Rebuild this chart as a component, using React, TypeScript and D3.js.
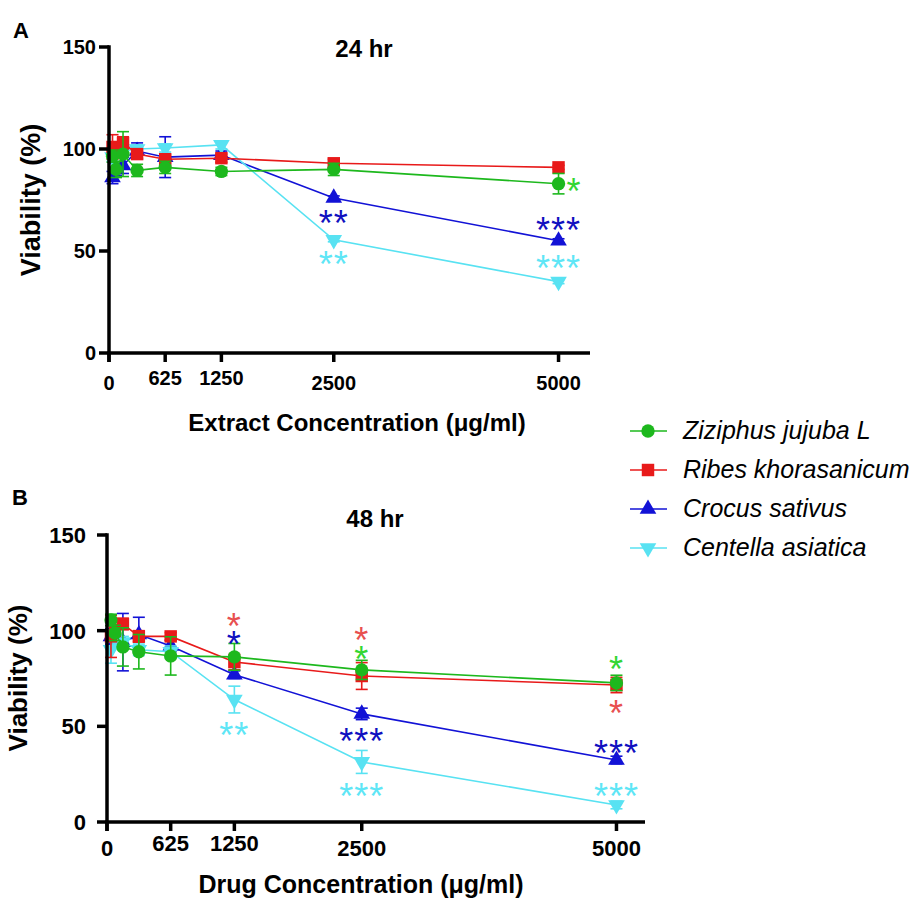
import React from "react";
import * as d3 from "d3";

// doses used in both experiments (µg/ml)
const concentrations = [39, 78, 156, 312.5, 625, 1250, 2500, 5000];
const xTickValues = [0, 625, 1250, 2500, 5000];
const yTickValues = [0, 50, 100, 150];

const species = ["Ziziphus jujuba L", "Ribes khorasanicum", "Crocus sativus", "Centella asiatica"];
const speciesColors = ["#1db81d", "#e81a1a", "#1212d6", "#58e2f2"];
const starColors = ["#33d633", "#e85050", "#1010c0", "#5ee6f6"];

// 24 hr viability (%) and SD
const ziziphus24 = [96.5, 90, 97.5, 89.5, 91, 89, 90, 83];
const ribes24 = [101, 100, 103, 97.5, 95, 95.5, 93, 91];
const crocus24 = [86, 90, 92, 99, 96, 97, 76, 55];
const centella24 = [96, 98, 99, 100, 100.5, 102, 55.5, 35];
const ziziphus24Sd = [3, 4, 11, 3, 3, 2, 3, 5];
const ribes24Sd = [6, 3, 3, 2, 2, 2, 2, 1];
const crocus24Sd = [3, 3, 4, 4, 10, 2, 1, 1];
const centella24Sd = [2, 2, 2, 2, 2, 2, 1, 1];

// 48 hr viability (%) and SD
const ziziphus48 = [105.6, 98.8, 91.5, 89, 86.8, 86.3, 79.5, 72.7];
const ribes48 = [97, 100, 103.5, 97, 97, 83.6, 76.3, 71.6];
const crocus48 = [97, 94, 94, 98, 92, 77, 56.5, 32.4];
const centella48 = [90, 96, 94, 90, 89, 64, 31.4, 8.9];
const ziziphus48Sd = [3, 4, 10, 9, 10, 7, 5, 4];
const ribes48Sd = [11, 3, 3, 3, 2, 4, 7, 4];
const crocus48Sd = [4, 3, 15, 9, 3, 2, 3, 2];
const centella48Sd = [7, 4, 3, 3, 3, 7, 6, 2];

// significance marks: species index, dose, value where the mark sits, text
const stars24 = [
  { s: 0, conc: 5000, v: 83, text: "*", right: true },
  { s: 2, conc: 2500, v: 67, text: "**" },
  { s: 3, conc: 2500, v: 47, text: "**" },
  { s: 2, conc: 5000, v: 64, text: "***" },
  { s: 3, conc: 5000, v: 45, text: "***" },
];
const stars48 = [
  { s: 1, conc: 1250, v: 106, text: "*" },
  { s: 2, conc: 1250, v: 96.7, text: "*" },
  { s: 3, conc: 1250, v: 49, text: "**" },
  { s: 1, conc: 2500, v: 98.8, text: "*" },
  { s: 0, conc: 2500, v: 88.9, text: "*" },
  { s: 2, conc: 2500, v: 46, text: "***" },
  { s: 3, conc: 2500, v: 17.2, text: "***" },
  { s: 0, conc: 5000, v: 83.6, text: "*" },
  { s: 1, conc: 5000, v: 60.6, text: "*" },
  { s: 2, conc: 5000, v: 39.7, text: "***" },
  { s: 3, conc: 5000, v: 17.2, text: "***" },
];

const FONT = "Arial, 'Liberation Sans', Helvetica, sans-serif";

const markerPath = (s: number) => {
  const types = [d3.symbolCircle, d3.symbolSquare, d3.symbolTriangle, d3.symbolTriangle];
  const sizes = [140, 155, 120, 120];
  return d3.symbol().type(types[s]).size(sizes[s])() as string;
};

const Marker = ({ s, cx, cy }: { s: number; cx: number; cy: number }) => (
  <path
    d={markerPath(s)}
    transform={`translate(${cx},${cy})${s === 3 ? " rotate(180)" : ""}`}
    fill={speciesColors[s]}
  />
);

function Panel({ cfg, values, errors, stars }: any) {
  const x = d3.scaleLinear().domain([0, cfg.xMax]).range([cfg.x0, cfg.x1]);
  const y = d3.scaleLinear().domain([0, 150]).range([cfg.y0, cfg.y1]);
  const line = d3
    .line<number>()
    .x((_, i) => x(concentrations[i]))
    .y((d) => y(d));
  const order = [2, 3, 1, 0]; // green ends up on top
  const axisW = 3.5;
  const starSize = 36;

  return (
    <g fontFamily={FONT}>
      <text x={cfg.letterX} y={cfg.letterY} fontSize={22} fontWeight="bold">
        {cfg.letter}
      </text>
      <text x={cfg.titleX} y={cfg.titleY} fontSize={24} fontWeight="bold" textAnchor="middle">
        {cfg.title}
      </text>

      {/* data */}
      {order.map((s) => (
        <g key={s}>
          <path d={line(values[s]) as string} fill="none" stroke={speciesColors[s]} strokeWidth={1.6} />
          {values[s].map((v: number, i: number) => {
            const cx = x(concentrations[i]);
            const sd = errors[s][i];
            return (
              <g key={i} stroke={speciesColors[s]} strokeWidth={1.6}>
                <line x1={cx} x2={cx} y1={y(v - sd)} y2={y(v + sd)} />
                <line x1={cx - 6} x2={cx + 6} y1={y(v - sd)} y2={y(v - sd)} />
                <line x1={cx - 6} x2={cx + 6} y1={y(v + sd)} y2={y(v + sd)} />
              </g>
            );
          })}
          {values[s].map((v: number, i: number) => (
            <Marker key={i} s={s} cx={x(concentrations[i])} cy={y(v)} />
          ))}
        </g>
      ))}

      {stars.map((st: any, i: number) => (
        <text
          key={i}
          x={x(st.conc) + (st.right ? 8 : 0)}
          y={y(st.v) + starSize * 0.56}
          fontSize={starSize}
          letterSpacing={1}
          textAnchor={st.right ? "start" : "middle"}
          fill={starColors[st.s]}
        >
          {st.text}
        </text>
      ))}

      {/* axes */}
      <line x1={x(0)} x2={x(0)} y1={y(150) - axisW / 2} y2={y(0) + 9} stroke="#000" strokeWidth={axisW} />
      <line x1={x(0) - axisW / 2} x2={cfg.x1} y1={y(0)} y2={y(0)} stroke="#000" strokeWidth={axisW} />
      {yTickValues.map((t) => (
        <g key={t}>
          <line x1={x(0) - 10} x2={x(0)} y1={y(t)} y2={y(t)} stroke="#000" strokeWidth={axisW} />
          <text
            x={cfg.yLabelEnd}
            y={y(t) + cfg.tickSize * 0.36}
            fontSize={cfg.tickSize}
            fontWeight="bold"
            textAnchor="end"
          >
            {t}
          </text>
        </g>
      ))}
      {xTickValues.map((t) => (
        <g key={t}>
          <line x1={x(t)} x2={x(t)} y1={y(0)} y2={y(0) + 9} stroke="#000" strokeWidth={axisW} />
          <text
            x={x(t)}
            y={t === 625 || t === 1250 ? cfg.xLabelY - 5 : cfg.xLabelY}
            fontSize={cfg.tickSize}
            fontWeight="bold"
            textAnchor="middle"
          >
            {t}
          </text>
        </g>
      ))}
      <text
        transform={`translate(${cfg.yTitleX},${cfg.yTitleY}) rotate(-90)`}
        y={cfg.yTitleSize * 0.36}
        fontSize={cfg.yTitleSize}
        fontWeight="bold"
        textAnchor="middle"
      >
        Viability (%)
      </text>
      <text x={cfg.xTitleX} y={cfg.xTitleY} fontSize={cfg.xTitleSize} fontWeight="bold" textAnchor="middle">
        {cfg.xTitle}
      </text>
    </g>
  );
}

const panelA = {
  letter: "A", letterX: 13, letterY: 38,
  title: "24 hr", titleX: 364, titleY: 57,
  x0: 109, x1: 590, xMax: 5350, y0: 353, y1: 47,
  tickSize: 20, xLabelY: 390, yLabelEnd: 96,
  yTitleX: 30, yTitleY: 200, yTitleSize: 27,
  xTitle: "Extract Concentration (\u03bcg/ml)", xTitleX: 357, xTitleY: 431, xTitleSize: 24,
};
const panelB = {
  letter: "B", letterX: 12, letterY: 505,
  title: "48 hr", titleX: 375, titleY: 527,
  x0: 107, x1: 645, xMax: 5280, y0: 822, y1: 535,
  tickSize: 22, xLabelY: 856, yLabelEnd: 86,
  yTitleX: 18, yTitleY: 678, yTitleSize: 26,
  xTitle: "Drug Concentration (\u03bcg/ml)", xTitleX: 361, xTitleY: 893, xTitleSize: 25,
};

export default function App() {
  const legendY = d3.scalePoint<number>().domain([0, 1, 2, 3]).range([431, 548]);
  return (
    <svg width={915} height={899} style={{ position: "absolute", left: 0, top: 0, background: "#fff" }}>
      <rect width={915} height={899} fill="#fff" />
      <Panel
        cfg={panelA}
        values={[ziziphus24, ribes24, crocus24, centella24]}
        errors={[ziziphus24Sd, ribes24Sd, crocus24Sd, centella24Sd]}
        stars={stars24}
      />
      <Panel
        cfg={panelB}
        values={[ziziphus48, ribes48, crocus48, centella48]}
        errors={[ziziphus48Sd, ribes48Sd, crocus48Sd, centella48Sd]}
        stars={stars48}
      />
      <g fontFamily={FONT}>
        {species.map((name, s) => (
          <g key={name}>
            <line x1={630} x2={667} y1={legendY(s)} y2={legendY(s)} stroke={speciesColors[s]} strokeWidth={1.6} />
            <Marker s={s} cx={648} cy={legendY(s)!} />
            <text x={683} y={legendY(s)! + 8} fontSize={25} fontStyle="italic">
              {name}
            </text>
          </g>
        ))}
      </g>
    </svg>
  );
}
